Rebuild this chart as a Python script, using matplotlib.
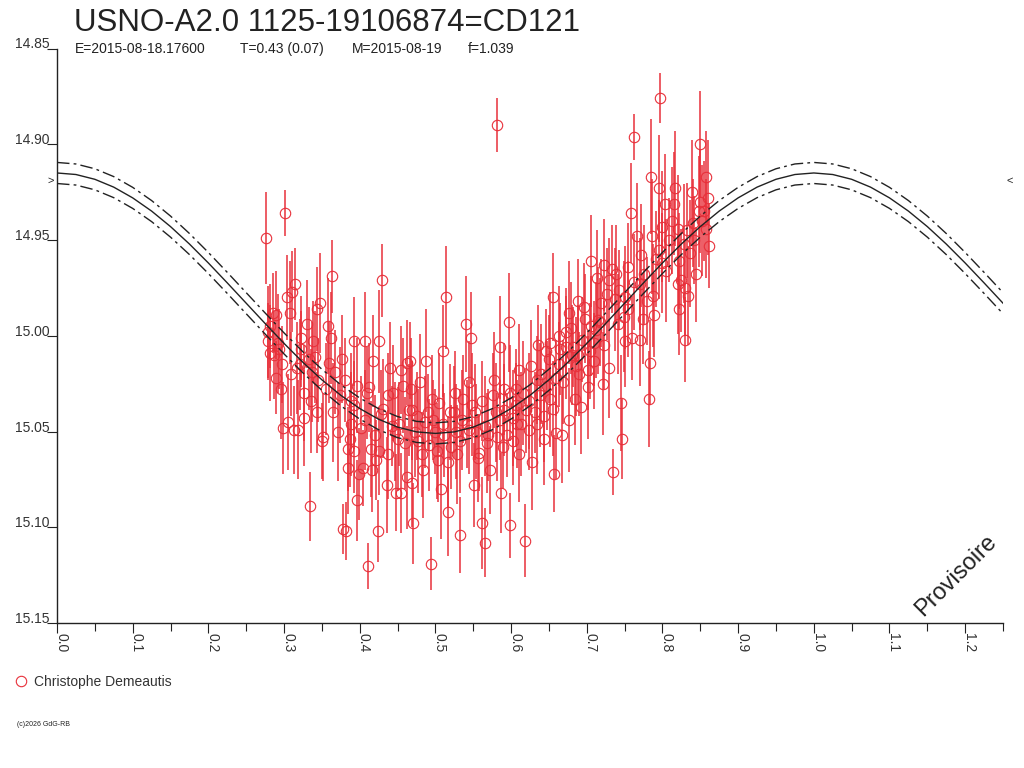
import numpy as np
import matplotlib

matplotlib.use("Agg")
import matplotlib.pyplot as plt
from matplotlib.ticker import MultipleLocator

plt.rcParams["font.family"] = ["Liberation Sans", "DejaVu Sans"]

TITLE = "USNO-A2.0 1125-19106874=CD121"
SUBTITLE = ["E=2015-08-18.17600", "T=0.43 (0.07)", "M=2015-08-19", "f=1.039"]
OBSERVER = "Christophe Demeautis"
RED = "#e8303a"
INK = "#222222"

# observations: phase, magnitude, 1-sigma error
phase = [
    0.276, 0.279, 0.281, 0.281, 0.285, 0.289, 0.290, 0.292, 0.297, 0.298,
    0.301, 0.304, 0.305, 0.308, 0.310, 0.313, 0.314, 0.317, 0.318, 0.322,
    0.323, 0.327, 0.330, 0.334, 0.335, 0.338, 0.341, 0.343, 0.347, 0.350,
    0.351, 0.358, 0.360, 0.362, 0.363, 0.367, 0.371, 0.378, 0.382, 0.384,
    0.385, 0.389, 0.393, 0.396, 0.397, 0.399, 0.404, 0.407, 0.411, 0.412,
    0.415, 0.416, 0.418, 0.421, 0.424, 0.425, 0.428, 0.430, 0.436, 0.437,
    0.440, 0.446, 0.448, 0.455, 0.455, 0.457, 0.462, 0.463, 0.465, 0.466,
    0.469, 0.469, 0.470, 0.479, 0.482, 0.486, 0.488, 0.490, 0.494, 0.495,
    0.502, 0.504, 0.507, 0.510, 0.510, 0.514, 0.516, 0.519, 0.521, 0.524,
    0.532, 0.535, 0.537, 0.540, 0.544, 0.547, 0.549, 0.551, 0.552, 0.556,
    0.557, 0.562, 0.566, 0.568, 0.576, 0.578, 0.581, 0.582, 0.585, 0.587,
    0.591, 0.595, 0.597, 0.599, 0.602, 0.603, 0.607, 0.611, 0.613, 0.618,
    0.620, 0.628, 0.634, 0.634, 0.635, 0.644, 0.646, 0.651, 0.652, 0.655,
    0.657, 0.660, 0.663, 0.663, 0.667, 0.673, 0.676, 0.682, 0.684, 0.686,
    0.689, 0.692, 0.698, 0.701, 0.702, 0.705, 0.706, 0.709, 0.714, 0.719,
    0.722, 0.723, 0.729, 0.730, 0.733, 0.735, 0.745, 0.747, 0.750, 0.751,
    0.754, 0.755, 0.758, 0.760, 0.763, 0.766, 0.774, 0.776, 0.779, 0.782,
    0.783, 0.785, 0.788, 0.791, 0.795, 0.797, 0.800, 0.803, 0.815, 0.816,
    0.820, 0.821, 0.822, 0.825, 0.830, 0.830, 0.834, 0.837, 0.845, 0.848,
    0.849, 0.850, 0.857, 0.858, 0.861,
    0.321, 0.345, 0.374, 0.393, 0.407, 0.442, 0.473, 0.477, 0.499, 0.527,
    0.545, 0.565, 0.585, 0.591, 0.606, 0.624, 0.638, 0.648, 0.659, 0.664,
    0.680, 0.694, 0.712, 0.717, 0.737, 0.743, 0.770, 0.796, 0.809, 0.833,
    0.840, 0.279, 0.294, 0.337, 0.380, 0.387, 0.426, 0.450, 0.492, 0.512,
    0.529, 0.572, 0.611, 0.624, 0.644, 0.677, 0.690, 0.710, 0.723, 0.741,
    0.770, 0.789, 0.805, 0.822, 0.842, 0.855,
    0.287, 0.296, 0.309, 0.326, 0.333, 0.344, 0.356, 0.365, 0.376, 0.388,
    0.392, 0.402, 0.410, 0.420, 0.431, 0.438, 0.444, 0.452, 0.460, 0.468,
    0.476, 0.484, 0.497, 0.505, 0.517, 0.526, 0.533, 0.542, 0.553, 0.561,
    0.570, 0.580, 0.589, 0.598, 0.608, 0.616, 0.626, 0.632, 0.640, 0.650,
    0.656, 0.668, 0.672, 0.679, 0.688, 0.696, 0.704, 0.715, 0.727, 0.738,
    0.749, 0.762, 0.772, 0.786, 0.799, 0.812, 0.828, 0.839, 0.852, 0.860,
]
mag = [
    14.949, 15.003, 14.995, 15.009, 14.988, 15.022, 14.989, 15.004, 15.015, 15.048,
    14.936, 14.980, 15.045, 14.988, 14.977, 15.049, 14.973, 15.017, 15.049, 15.001,
    15.007, 15.043, 14.994, 15.089, 15.034, 15.003, 15.011, 14.986, 14.983, 15.055,
    15.053, 14.995, 15.014, 15.001, 14.969, 15.019, 15.050, 15.101, 15.102, 15.069,
    15.059, 15.046, 15.003, 15.026, 15.086, 15.072, 15.069, 15.003, 15.120, 15.027,
    15.059, 15.070, 15.013, 15.065, 15.102, 15.003, 15.041, 14.971, 15.078, 15.031,
    15.017, 15.050, 15.082, 15.018, 15.082, 15.026, 15.074, 15.014, 15.039, 15.013,
    15.039, 15.077, 15.098, 15.024, 15.062, 15.045, 15.013, 15.040, 15.119, 15.033,
    15.060, 15.065, 15.080, 15.008, 15.046, 14.980, 15.092, 15.040, 15.058, 15.040,
    15.104, 15.044, 15.033, 14.994, 15.024, 15.001, 15.036, 15.078, 15.040, 15.064,
    15.061, 15.098, 15.108, 15.056, 15.031, 15.023, 15.053, 14.890, 15.006, 15.082,
    15.028, 15.052, 14.993, 15.099, 15.055, 15.043, 15.028, 15.018, 15.046, 15.107,
    15.039, 15.066, 15.023, 15.046, 15.005, 15.042, 15.008, 15.004, 15.033, 14.980,
    15.072, 15.051, 15.000, 15.015, 15.052, 14.998, 14.988, 15.006, 15.033, 15.016,
    14.982, 15.037, 14.991, 15.027, 15.018, 14.961, 14.995, 15.004, 14.970, 14.983,
    15.025, 14.963, 14.971, 15.017, 14.965, 15.071, 15.035, 15.054, 15.003, 14.980,
    14.964, 14.986, 14.936, 15.001, 14.896, 14.948, 14.991, 14.968, 14.982, 15.033,
    15.014, 14.917, 14.979, 14.960, 14.923, 14.876, 14.943, 14.931, 14.931, 14.923,
    14.944, 14.973, 14.986, 14.971, 14.975, 15.002, 14.979, 14.957, 14.968, 14.935,
    14.900, 14.930, 14.917, 14.944, 14.953,
    15.015, 15.023, 15.031, 15.036, 15.044, 15.047, 15.050, 15.055, 15.050, 15.050,
    15.049, 15.047, 15.044, 15.039, 15.036, 15.034, 15.031, 15.026, 15.022, 15.007,
    15.010, 15.002, 14.997, 14.993, 14.981, 14.976, 14.973, 14.955, 14.950, 14.945,
    14.941, 14.998, 15.007, 15.019, 15.023, 15.054, 15.060, 15.054, 15.057, 15.052,
    15.062, 15.070, 15.062, 15.049, 15.054, 15.044, 15.020, 15.013, 15.005, 14.994,
    15.002, 14.989, 14.966, 14.961, 14.950, 14.935,
    15.010, 15.028, 15.020, 15.030, 15.012, 15.040, 15.028, 15.040, 15.012, 15.034,
    15.060, 15.048, 15.030, 15.052, 15.038, 15.062, 15.030, 15.046, 15.056, 15.028,
    15.042, 15.070, 15.044, 15.035, 15.066, 15.030, 15.055, 15.046, 15.050, 15.034,
    15.052, 15.040, 15.058, 15.030, 15.046, 15.030, 15.016, 15.040, 15.020, 15.012,
    15.038, 15.024, 15.006, 14.996, 15.010, 14.985, 15.008, 14.992, 14.978, 14.968,
    14.990, 14.972, 14.958, 14.948, 14.962, 14.940, 14.952, 14.925, 14.940, 14.928,
]
err = [
    0.024, 0.020, 0.022, 0.025, 0.021, 0.019, 0.023, 0.026, 0.020, 0.024,
    0.012, 0.022, 0.025, 0.027, 0.021, 0.023, 0.019, 0.024, 0.026, 0.022,
    0.020, 0.025, 0.023, 0.018, 0.027, 0.021, 0.024, 0.022, 0.026, 0.020,
    0.023, 0.025, 0.021, 0.024, 0.019, 0.022, 0.026, 0.013, 0.015, 0.024,
    0.022, 0.027, 0.023, 0.025, 0.021, 0.024, 0.020, 0.026, 0.012, 0.023,
    0.025, 0.022, 0.024, 0.021, 0.016, 0.027, 0.023, 0.019, 0.025, 0.022,
    0.024, 0.026, 0.020, 0.023, 0.021, 0.025, 0.027, 0.022, 0.024, 0.020,
    0.026, 0.023, 0.021, 0.025, 0.022, 0.024, 0.027, 0.020, 0.014, 0.023,
    0.025, 0.022, 0.026, 0.024, 0.021, 0.027, 0.023, 0.025, 0.022, 0.024,
    0.020, 0.026, 0.023, 0.025, 0.021, 0.024, 0.027, 0.022, 0.025, 0.023,
    0.020, 0.024, 0.018, 0.026, 0.022, 0.025, 0.023, 0.014, 0.027, 0.021,
    0.024, 0.022, 0.026, 0.017, 0.023, 0.025, 0.021, 0.024, 0.027, 0.019,
    0.022, 0.025, 0.023, 0.026, 0.021, 0.024, 0.022, 0.027, 0.025, 0.023,
    0.020, 0.024, 0.026, 0.022, 0.025, 0.023, 0.027, 0.021, 0.024, 0.026,
    0.022, 0.025, 0.023, 0.027, 0.021, 0.024, 0.026, 0.022, 0.025, 0.023,
    0.027, 0.024, 0.022, 0.026, 0.023, 0.012, 0.025, 0.021, 0.024, 0.027,
    0.023, 0.025, 0.026, 0.022, 0.012, 0.028, 0.024, 0.026, 0.023, 0.025,
    0.022, 0.030, 0.027, 0.025, 0.028, 0.013, 0.029, 0.026, 0.027, 0.030,
    0.028, 0.026, 0.024, 0.027, 0.025, 0.022, 0.026, 0.028, 0.025, 0.029,
    0.028, 0.027, 0.024, 0.026, 0.022,
    0.024, 0.022, 0.025, 0.023, 0.026, 0.021, 0.024, 0.027, 0.022, 0.025,
    0.023, 0.026, 0.021, 0.024, 0.022, 0.025, 0.027, 0.023, 0.020, 0.024,
    0.026, 0.022, 0.025, 0.023, 0.027, 0.021, 0.024, 0.026, 0.022, 0.025,
    0.023, 0.024, 0.021, 0.026, 0.022, 0.025, 0.023, 0.027, 0.024, 0.022,
    0.026, 0.023, 0.025, 0.021, 0.024, 0.027, 0.022, 0.025, 0.023, 0.026,
    0.024, 0.022, 0.027, 0.025, 0.023, 0.026,
    0.023, 0.026, 0.022, 0.025, 0.027, 0.021, 0.024, 0.026, 0.023, 0.025,
    0.022, 0.027, 0.024, 0.021, 0.026, 0.023, 0.025, 0.022, 0.024, 0.027,
    0.023, 0.025, 0.021, 0.026, 0.024, 0.022, 0.027, 0.023, 0.025, 0.021,
    0.024, 0.026, 0.022, 0.025, 0.023, 0.027, 0.024, 0.021, 0.026, 0.023,
    0.025, 0.022, 0.027, 0.024, 0.026, 0.023, 0.025, 0.028, 0.024, 0.026,
    0.029, 0.025, 0.027, 0.030, 0.026, 0.028, 0.031, 0.027, 0.029, 0.030,
]
assert len(phase) == len(mag) == len(err)

# fitted light curve, every 0.025 in phase
curve_phase = np.linspace(0.0, 1.25, 51)
curve_mag = [
    14.9150, 14.9158, 14.9183, 14.9224, 14.9280, 14.9349, 14.9430, 14.9521, 14.9620, 14.9724,
    14.9830, 14.9936, 15.0040, 15.0139, 15.0230, 15.0311, 15.0380, 15.0436, 15.0477, 15.0502,
    15.0510, 15.0502, 15.0477, 15.0436, 15.0380, 15.0311, 15.0230, 15.0139, 15.0040, 14.9936,
    14.9830, 14.9724, 14.9620, 14.9521, 14.9430, 14.9349, 14.9280, 14.9224, 14.9183, 14.9158,
    14.9150, 14.9158, 14.9183, 14.9224, 14.9280, 14.9349, 14.9430, 14.9521, 14.9620, 14.9724,
    14.9830,
]
band_halfwidth = 0.0055
max_level = 14.919

y_ticks = [14.85, 14.90, 14.95, 15.00, 15.05, 15.10, 15.15]
x_ticks = [round(0.1 * i, 1) for i in range(13)]

W, H = 1024, 768
fig = plt.figure(figsize=(W / 100, H / 100), dpi=100)
ax = fig.add_axes([57 / W, 1 - 623 / H, (1003 - 57) / W, (623 - 48.5) / H])

ax.errorbar(phase, mag, yerr=err, fmt="none", ecolor=RED, elinewidth=1.1, capsize=0, zorder=2)
pts, = ax.plot(phase, mag, "o", mfc="none", mec=RED, ms=7.5, mew=0.8, zorder=3,
               label=OBSERVER)

cm = np.array(curve_mag)
dash = (0, (9, 3, 2, 3))
ax.plot(curve_phase, cm, color=INK, lw=1.0, zorder=4)
ax.plot(curve_phase, cm - band_halfwidth, color=INK, lw=1.0, ls=dash, zorder=4)
ax.plot(curve_phase, cm + band_halfwidth, color=INK, lw=1.0, ls=dash, zorder=4)

ax.set_xlim(0, 1.25)
ax.set_ylim(15.15, 14.85)
for side in ("top", "right"):
    ax.spines[side].set_visible(False)
for side in ("left", "bottom"):
    ax.spines[side].set_color(INK)
    ax.spines[side].set_linewidth(1.0)

ax.set_yticks(y_ticks)
ax.set_yticklabels([f"{v:.2f}" for v in y_ticks], va="baseline")
ax.tick_params(axis="y", length=7.5, width=0.8, color=INK, pad=-2,
               labelsize=10, labelcolor="#333333")

ax.set_xticks(x_ticks)
ax.xaxis.set_minor_locator(MultipleLocator(0.05))
ax.set_xticklabels([f"{v:.1f}" for v in x_ticks], rotation=-90,
                   rotation_mode="anchor", ha="left", va="baseline")
ax.tick_params(axis="x", which="major", length=7.5, width=0.8, color=INK, pad=0,
               labelsize=10, labelcolor="#333333")
ax.tick_params(axis="x", which="minor", length=6, width=0.8, color=INK)

ax.text(-0.004, max_level, ">", ha="right", va="center", fontsize=8, color=INK)
ax.text(1.254, max_level, "<", ha="left", va="center", fontsize=8, color=INK)

fig.text(74 / W, 1 - 31 / H, TITLE, fontsize=22.5, color=INK, va="baseline")
for x0, s in zip([75, 240, 352, 468], SUBTITLE):
    fig.text(x0 / W, 1 - 53 / H, s, fontsize=10, color=INK, va="baseline")

fig.text(956 / W, 1 - 576 / H, "Provisoire", rotation=45, ha="center", va="center",
         fontsize=17, color=INK)

ax.legend(handles=[pts], loc="center left", bbox_to_anchor=(15 / W, 1 - 682 / H),
          bbox_transform=fig.transFigure, frameon=False, borderpad=0, borderaxespad=0,
          handlelength=0.9, handletextpad=0.45, numpoints=1, fontsize=10,
          labelcolor="#333333")
fig.text(17 / W, 1 - 725 / H, "(c)2026 GdG-RB", fontsize=5, color=INK, va="center")

fig.savefig("out.png", dpi=100)
